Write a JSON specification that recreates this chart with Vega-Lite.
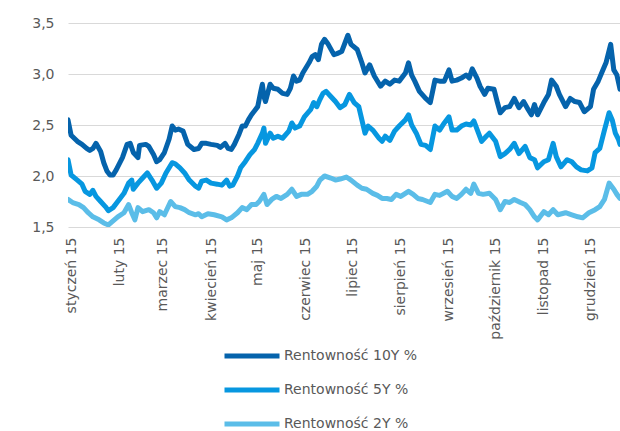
{
  "$schema": "https://vega.github.io/schema/vega-lite/v6.json",
  "width": 552,
  "height": 204,
  "autosize": {"type": "none"},
  "padding": {"left": 68, "top": 23, "right": 0, "bottom": 204},
  "background": "white",
  "config": {"view": {"stroke": null}, "font": "DejaVu Sans"},
  "data": {"values": [
    {"d":"2014-12-30","s":"10Y","v":2.55},{"d":"2015-01-01","s":"10Y","v":2.40},{"d":"2015-01-05","s":"10Y","v":2.34},{"d":"2015-01-08","s":"10Y","v":2.31},{"d":"2015-01-11","s":"10Y","v":2.27},{"d":"2015-01-13","s":"10Y","v":2.25},{"d":"2015-01-15","s":"10Y","v":2.27},{"d":"2015-01-17","s":"10Y","v":2.32},{"d":"2015-01-20","s":"10Y","v":2.24},{"d":"2015-01-22","s":"10Y","v":2.13},{"d":"2015-01-24","s":"10Y","v":2.05},{"d":"2015-01-26","s":"10Y","v":2.01},{"d":"2015-01-28","s":"10Y","v":2.01},{"d":"2015-01-30","s":"10Y","v":2.06},{"d":"2015-02-03","s":"10Y","v":2.18},{"d":"2015-02-06","s":"10Y","v":2.31},{"d":"2015-02-08","s":"10Y","v":2.32},{"d":"2015-02-10","s":"10Y","v":2.23},{"d":"2015-02-13","s":"10Y","v":2.18},{"d":"2015-02-14","s":"10Y","v":2.30},{"d":"2015-02-18","s":"10Y","v":2.31},{"d":"2015-02-20","s":"10Y","v":2.29},{"d":"2015-02-23","s":"10Y","v":2.21},{"d":"2015-02-25","s":"10Y","v":2.14},{"d":"2015-02-27","s":"10Y","v":2.16},{"d":"2015-03-02","s":"10Y","v":2.23},{"d":"2015-03-05","s":"10Y","v":2.36},{"d":"2015-03-07","s":"10Y","v":2.49},{"d":"2015-03-09","s":"10Y","v":2.45},{"d":"2015-03-11","s":"10Y","v":2.46},{"d":"2015-03-14","s":"10Y","v":2.44},{"d":"2015-03-17","s":"10Y","v":2.31},{"d":"2015-03-21","s":"10Y","v":2.26},{"d":"2015-03-24","s":"10Y","v":2.27},{"d":"2015-03-26","s":"10Y","v":2.32},{"d":"2015-03-29","s":"10Y","v":2.32},{"d":"2015-04-01","s":"10Y","v":2.31},{"d":"2015-04-05","s":"10Y","v":2.30},{"d":"2015-04-07","s":"10Y","v":2.28},{"d":"2015-04-10","s":"10Y","v":2.32},{"d":"2015-04-12","s":"10Y","v":2.27},{"d":"2015-04-14","s":"10Y","v":2.26},{"d":"2015-04-16","s":"10Y","v":2.31},{"d":"2015-04-19","s":"10Y","v":2.41},{"d":"2015-04-21","s":"10Y","v":2.49},{"d":"2015-04-23","s":"10Y","v":2.49},{"d":"2015-04-25","s":"10Y","v":2.55},{"d":"2015-04-27","s":"10Y","v":2.60},{"d":"2015-04-29","s":"10Y","v":2.64},{"d":"2015-05-01","s":"10Y","v":2.68},{"d":"2015-05-03","s":"10Y","v":2.83},{"d":"2015-05-04","s":"10Y","v":2.90},{"d":"2015-05-05","s":"10Y","v":2.78},{"d":"2015-05-06","s":"10Y","v":2.73},{"d":"2015-05-09","s":"10Y","v":2.90},{"d":"2015-05-11","s":"10Y","v":2.86},{"d":"2015-05-14","s":"10Y","v":2.85},{"d":"2015-05-17","s":"10Y","v":2.81},{"d":"2015-05-20","s":"10Y","v":2.80},{"d":"2015-05-22","s":"10Y","v":2.86},{"d":"2015-05-24","s":"10Y","v":2.98},{"d":"2015-05-26","s":"10Y","v":2.93},{"d":"2015-05-28","s":"10Y","v":2.94},{"d":"2015-05-30","s":"10Y","v":3.01},{"d":"2015-06-03","s":"10Y","v":3.11},{"d":"2015-06-05","s":"10Y","v":3.17},{"d":"2015-06-07","s":"10Y","v":3.19},{"d":"2015-06-09","s":"10Y","v":3.14},{"d":"2015-06-11","s":"10Y","v":3.29},{"d":"2015-06-13","s":"10Y","v":3.34},{"d":"2015-06-15","s":"10Y","v":3.30},{"d":"2015-06-19","s":"10Y","v":3.19},{"d":"2015-06-21","s":"10Y","v":3.20},{"d":"2015-06-24","s":"10Y","v":3.22},{"d":"2015-06-28","s":"10Y","v":3.38},{"d":"2015-06-30","s":"10Y","v":3.29},{"d":"2015-07-04","s":"10Y","v":3.24},{"d":"2015-07-07","s":"10Y","v":3.11},{"d":"2015-07-09","s":"10Y","v":3.01},{"d":"2015-07-12","s":"10Y","v":3.09},{"d":"2015-07-15","s":"10Y","v":2.98},{"d":"2015-07-19","s":"10Y","v":2.88},{"d":"2015-07-22","s":"10Y","v":2.93},{"d":"2015-07-25","s":"10Y","v":2.90},{"d":"2015-07-28","s":"10Y","v":2.94},{"d":"2015-07-31","s":"10Y","v":2.93},{"d":"2015-08-04","s":"10Y","v":3.01},{"d":"2015-08-06","s":"10Y","v":3.11},{"d":"2015-08-08","s":"10Y","v":2.99},{"d":"2015-08-10","s":"10Y","v":2.93},{"d":"2015-08-13","s":"10Y","v":2.83},{"d":"2015-08-17","s":"10Y","v":2.76},{"d":"2015-08-20","s":"10Y","v":2.72},{"d":"2015-08-23","s":"10Y","v":2.94},{"d":"2015-08-26","s":"10Y","v":2.93},{"d":"2015-08-29","s":"10Y","v":2.93},{"d":"2015-09-01","s":"10Y","v":3.04},{"d":"2015-09-03","s":"10Y","v":2.93},{"d":"2015-09-06","s":"10Y","v":2.94},{"d":"2015-09-09","s":"10Y","v":2.96},{"d":"2015-09-12","s":"10Y","v":2.99},{"d":"2015-09-14","s":"10Y","v":2.96},{"d":"2015-09-16","s":"10Y","v":3.05},{"d":"2015-09-19","s":"10Y","v":2.96},{"d":"2015-09-21","s":"10Y","v":2.88},{"d":"2015-09-24","s":"10Y","v":2.80},{"d":"2015-09-26","s":"10Y","v":2.86},{"d":"2015-09-30","s":"10Y","v":2.85},{"d":"2015-10-02","s":"10Y","v":2.73},{"d":"2015-10-04","s":"10Y","v":2.62},{"d":"2015-10-07","s":"10Y","v":2.67},{"d":"2015-10-10","s":"10Y","v":2.68},{"d":"2015-10-13","s":"10Y","v":2.76},{"d":"2015-10-16","s":"10Y","v":2.67},{"d":"2015-10-19","s":"10Y","v":2.73},{"d":"2015-10-22","s":"10Y","v":2.65},{"d":"2015-10-24","s":"10Y","v":2.60},{"d":"2015-10-26","s":"10Y","v":2.70},{"d":"2015-10-28","s":"10Y","v":2.60},{"d":"2015-11-01","s":"10Y","v":2.72},{"d":"2015-11-04","s":"10Y","v":2.80},{"d":"2015-11-06","s":"10Y","v":2.94},{"d":"2015-11-09","s":"10Y","v":2.88},{"d":"2015-11-11","s":"10Y","v":2.80},{"d":"2015-11-15","s":"10Y","v":2.68},{"d":"2015-11-18","s":"10Y","v":2.76},{"d":"2015-11-21","s":"10Y","v":2.73},{"d":"2015-11-24","s":"10Y","v":2.72},{"d":"2015-11-27","s":"10Y","v":2.63},{"d":"2015-12-01","s":"10Y","v":2.68},{"d":"2015-12-03","s":"10Y","v":2.85},{"d":"2015-12-06","s":"10Y","v":2.93},{"d":"2015-12-09","s":"10Y","v":3.04},{"d":"2015-12-11","s":"10Y","v":3.11},{"d":"2015-12-14","s":"10Y","v":3.29},{"d":"2015-12-16","s":"10Y","v":3.04},{"d":"2015-12-18","s":"10Y","v":2.99},{"d":"2015-12-20","s":"10Y","v":2.85},
    {"d":"2014-12-30","s":"5Y","v":2.16},{"d":"2015-01-01","s":"5Y","v":2.01},{"d":"2015-01-05","s":"5Y","v":1.96},{"d":"2015-01-08","s":"5Y","v":1.92},{"d":"2015-01-10","s":"5Y","v":1.85},{"d":"2015-01-13","s":"5Y","v":1.82},{"d":"2015-01-15","s":"5Y","v":1.86},{"d":"2015-01-17","s":"5Y","v":1.80},{"d":"2015-01-20","s":"5Y","v":1.75},{"d":"2015-01-23","s":"5Y","v":1.70},{"d":"2015-01-25","s":"5Y","v":1.66},{"d":"2015-01-28","s":"5Y","v":1.69},{"d":"2015-01-31","s":"5Y","v":1.75},{"d":"2015-02-04","s":"5Y","v":1.83},{"d":"2015-02-07","s":"5Y","v":1.93},{"d":"2015-02-09","s":"5Y","v":1.96},{"d":"2015-02-10","s":"5Y","v":1.87},{"d":"2015-02-13","s":"5Y","v":1.93},{"d":"2015-02-16","s":"5Y","v":1.98},{"d":"2015-02-19","s":"5Y","v":2.03},{"d":"2015-02-22","s":"5Y","v":1.96},{"d":"2015-02-25","s":"5Y","v":1.88},{"d":"2015-02-28","s":"5Y","v":1.93},{"d":"2015-03-03","s":"5Y","v":2.03},{"d":"2015-03-07","s":"5Y","v":2.13},{"d":"2015-03-09","s":"5Y","v":2.12},{"d":"2015-03-12","s":"5Y","v":2.08},{"d":"2015-03-15","s":"5Y","v":2.03},{"d":"2015-03-18","s":"5Y","v":1.96},{"d":"2015-03-22","s":"5Y","v":1.90},{"d":"2015-03-24","s":"5Y","v":1.88},{"d":"2015-03-26","s":"5Y","v":1.95},{"d":"2015-03-29","s":"5Y","v":1.96},{"d":"2015-04-01","s":"5Y","v":1.93},{"d":"2015-04-05","s":"5Y","v":1.92},{"d":"2015-04-08","s":"5Y","v":1.91},{"d":"2015-04-11","s":"5Y","v":1.96},{"d":"2015-04-13","s":"5Y","v":1.90},{"d":"2015-04-15","s":"5Y","v":1.91},{"d":"2015-04-18","s":"5Y","v":2.00},{"d":"2015-04-20","s":"5Y","v":2.08},{"d":"2015-04-23","s":"5Y","v":2.14},{"d":"2015-04-26","s":"5Y","v":2.21},{"d":"2015-04-29","s":"5Y","v":2.26},{"d":"2015-05-01","s":"5Y","v":2.32},{"d":"2015-05-04","s":"5Y","v":2.42},{"d":"2015-05-05","s":"5Y","v":2.47},{"d":"2015-05-06","s":"5Y","v":2.32},{"d":"2015-05-09","s":"5Y","v":2.42},{"d":"2015-05-11","s":"5Y","v":2.37},{"d":"2015-05-14","s":"5Y","v":2.39},{"d":"2015-05-17","s":"5Y","v":2.37},{"d":"2015-05-21","s":"5Y","v":2.44},{"d":"2015-05-23","s":"5Y","v":2.52},{"d":"2015-05-25","s":"5Y","v":2.47},{"d":"2015-05-28","s":"5Y","v":2.49},{"d":"2015-05-31","s":"5Y","v":2.58},{"d":"2015-06-04","s":"5Y","v":2.65},{"d":"2015-06-06","s":"5Y","v":2.72},{"d":"2015-06-08","s":"5Y","v":2.68},{"d":"2015-06-10","s":"5Y","v":2.75},{"d":"2015-06-12","s":"5Y","v":2.81},{"d":"2015-06-14","s":"5Y","v":2.83},{"d":"2015-06-17","s":"5Y","v":2.78},{"d":"2015-06-20","s":"5Y","v":2.73},{"d":"2015-06-23","s":"5Y","v":2.67},{"d":"2015-06-26","s":"5Y","v":2.70},{"d":"2015-06-29","s":"5Y","v":2.80},{"d":"2015-07-02","s":"5Y","v":2.72},{"d":"2015-07-05","s":"5Y","v":2.68},{"d":"2015-07-07","s":"5Y","v":2.55},{"d":"2015-07-09","s":"5Y","v":2.42},{"d":"2015-07-11","s":"5Y","v":2.49},{"d":"2015-07-14","s":"5Y","v":2.45},{"d":"2015-07-18","s":"5Y","v":2.37},{"d":"2015-07-20","s":"5Y","v":2.34},{"d":"2015-07-22","s":"5Y","v":2.39},{"d":"2015-07-25","s":"5Y","v":2.35},{"d":"2015-07-28","s":"5Y","v":2.44},{"d":"2015-07-31","s":"5Y","v":2.49},{"d":"2015-08-04","s":"5Y","v":2.55},{"d":"2015-08-06","s":"5Y","v":2.60},{"d":"2015-08-08","s":"5Y","v":2.50},{"d":"2015-08-11","s":"5Y","v":2.42},{"d":"2015-08-14","s":"5Y","v":2.31},{"d":"2015-08-17","s":"5Y","v":2.30},{"d":"2015-08-20","s":"5Y","v":2.26},{"d":"2015-08-23","s":"5Y","v":2.49},{"d":"2015-08-26","s":"5Y","v":2.45},{"d":"2015-08-29","s":"5Y","v":2.52},{"d":"2015-09-01","s":"5Y","v":2.58},{"d":"2015-09-03","s":"5Y","v":2.45},{"d":"2015-09-06","s":"5Y","v":2.45},{"d":"2015-09-09","s":"5Y","v":2.49},{"d":"2015-09-12","s":"5Y","v":2.51},{"d":"2015-09-15","s":"5Y","v":2.50},{"d":"2015-09-17","s":"5Y","v":2.54},{"d":"2015-09-20","s":"5Y","v":2.42},{"d":"2015-09-22","s":"5Y","v":2.34},{"d":"2015-09-25","s":"5Y","v":2.39},{"d":"2015-09-27","s":"5Y","v":2.42},{"d":"2015-10-01","s":"5Y","v":2.34},{"d":"2015-10-04","s":"5Y","v":2.19},{"d":"2015-10-07","s":"5Y","v":2.22},{"d":"2015-10-10","s":"5Y","v":2.26},{"d":"2015-10-13","s":"5Y","v":2.32},{"d":"2015-10-16","s":"5Y","v":2.22},{"d":"2015-10-20","s":"5Y","v":2.29},{"d":"2015-10-23","s":"5Y","v":2.18},{"d":"2015-10-26","s":"5Y","v":2.16},{"d":"2015-10-28","s":"5Y","v":2.08},{"d":"2015-11-01","s":"5Y","v":2.14},{"d":"2015-11-04","s":"5Y","v":2.16},{"d":"2015-11-07","s":"5Y","v":2.32},{"d":"2015-11-09","s":"5Y","v":2.19},{"d":"2015-11-12","s":"5Y","v":2.09},{"d":"2015-11-16","s":"5Y","v":2.16},{"d":"2015-11-19","s":"5Y","v":2.14},{"d":"2015-11-22","s":"5Y","v":2.09},{"d":"2015-11-25","s":"5Y","v":2.06},{"d":"2015-11-29","s":"5Y","v":2.05},{"d":"2015-12-02","s":"5Y","v":2.08},{"d":"2015-12-04","s":"5Y","v":2.23},{"d":"2015-12-07","s":"5Y","v":2.27},{"d":"2015-12-10","s":"5Y","v":2.45},{"d":"2015-12-13","s":"5Y","v":2.62},{"d":"2015-12-15","s":"5Y","v":2.55},{"d":"2015-12-17","s":"5Y","v":2.42},{"d":"2015-12-19","s":"5Y","v":2.36},{"d":"2015-12-20","s":"5Y","v":2.31},
    {"d":"2014-12-30","s":"2Y","v":1.77},{"d":"2015-01-02","s":"2Y","v":1.74},{"d":"2015-01-06","s":"2Y","v":1.72},{"d":"2015-01-09","s":"2Y","v":1.69},{"d":"2015-01-12","s":"2Y","v":1.64},{"d":"2015-01-15","s":"2Y","v":1.60},{"d":"2015-01-19","s":"2Y","v":1.57},{"d":"2015-01-22","s":"2Y","v":1.54},{"d":"2015-01-25","s":"2Y","v":1.52},{"d":"2015-01-28","s":"2Y","v":1.56},{"d":"2015-01-31","s":"2Y","v":1.60},{"d":"2015-02-04","s":"2Y","v":1.64},{"d":"2015-02-07","s":"2Y","v":1.72},{"d":"2015-02-09","s":"2Y","v":1.64},{"d":"2015-02-11","s":"2Y","v":1.57},{"d":"2015-02-13","s":"2Y","v":1.69},{"d":"2015-02-16","s":"2Y","v":1.65},{"d":"2015-02-20","s":"2Y","v":1.67},{"d":"2015-02-23","s":"2Y","v":1.64},{"d":"2015-02-25","s":"2Y","v":1.59},{"d":"2015-02-27","s":"2Y","v":1.65},{"d":"2015-03-02","s":"2Y","v":1.62},{"d":"2015-03-06","s":"2Y","v":1.75},{"d":"2015-03-09","s":"2Y","v":1.70},{"d":"2015-03-12","s":"2Y","v":1.69},{"d":"2015-03-15","s":"2Y","v":1.67},{"d":"2015-03-18","s":"2Y","v":1.64},{"d":"2015-03-22","s":"2Y","v":1.62},{"d":"2015-03-24","s":"2Y","v":1.63},{"d":"2015-03-26","s":"2Y","v":1.60},{"d":"2015-03-30","s":"2Y","v":1.63},{"d":"2015-04-03","s":"2Y","v":1.62},{"d":"2015-04-08","s":"2Y","v":1.60},{"d":"2015-04-11","s":"2Y","v":1.57},{"d":"2015-04-14","s":"2Y","v":1.59},{"d":"2015-04-18","s":"2Y","v":1.64},{"d":"2015-04-21","s":"2Y","v":1.69},{"d":"2015-04-24","s":"2Y","v":1.67},{"d":"2015-04-27","s":"2Y","v":1.72},{"d":"2015-04-30","s":"2Y","v":1.72},{"d":"2015-05-02","s":"2Y","v":1.75},{"d":"2015-05-05","s":"2Y","v":1.82},{"d":"2015-05-07","s":"2Y","v":1.72},{"d":"2015-05-10","s":"2Y","v":1.77},{"d":"2015-05-13","s":"2Y","v":1.80},{"d":"2015-05-16","s":"2Y","v":1.78},{"d":"2015-05-20","s":"2Y","v":1.82},{"d":"2015-05-23","s":"2Y","v":1.87},{"d":"2015-05-26","s":"2Y","v":1.80},{"d":"2015-05-29","s":"2Y","v":1.82},{"d":"2015-06-02","s":"2Y","v":1.82},{"d":"2015-06-05","s":"2Y","v":1.85},{"d":"2015-06-08","s":"2Y","v":1.90},{"d":"2015-06-10","s":"2Y","v":1.96},{"d":"2015-06-13","s":"2Y","v":2.00},{"d":"2015-06-17","s":"2Y","v":1.98},{"d":"2015-06-20","s":"2Y","v":1.96},{"d":"2015-06-23","s":"2Y","v":1.97},{"d":"2015-06-27","s":"2Y","v":1.99},{"d":"2015-06-30","s":"2Y","v":1.96},{"d":"2015-07-04","s":"2Y","v":1.91},{"d":"2015-07-07","s":"2Y","v":1.88},{"d":"2015-07-10","s":"2Y","v":1.87},{"d":"2015-07-14","s":"2Y","v":1.83},{"d":"2015-07-17","s":"2Y","v":1.81},{"d":"2015-07-20","s":"2Y","v":1.78},{"d":"2015-07-23","s":"2Y","v":1.78},{"d":"2015-07-26","s":"2Y","v":1.77},{"d":"2015-07-29","s":"2Y","v":1.82},{"d":"2015-08-01","s":"2Y","v":1.80},{"d":"2015-08-06","s":"2Y","v":1.85},{"d":"2015-08-09","s":"2Y","v":1.82},{"d":"2015-08-12","s":"2Y","v":1.78},{"d":"2015-08-15","s":"2Y","v":1.77},{"d":"2015-08-20","s":"2Y","v":1.74},{"d":"2015-08-23","s":"2Y","v":1.82},{"d":"2015-08-26","s":"2Y","v":1.81},{"d":"2015-08-31","s":"2Y","v":1.85},{"d":"2015-09-03","s":"2Y","v":1.80},{"d":"2015-09-06","s":"2Y","v":1.78},{"d":"2015-09-09","s":"2Y","v":1.82},{"d":"2015-09-12","s":"2Y","v":1.87},{"d":"2015-09-15","s":"2Y","v":1.83},{"d":"2015-09-17","s":"2Y","v":1.92},{"d":"2015-09-20","s":"2Y","v":1.83},{"d":"2015-09-23","s":"2Y","v":1.82},{"d":"2015-09-27","s":"2Y","v":1.83},{"d":"2015-10-01","s":"2Y","v":1.77},{"d":"2015-10-04","s":"2Y","v":1.67},{"d":"2015-10-07","s":"2Y","v":1.75},{"d":"2015-10-10","s":"2Y","v":1.74},{"d":"2015-10-13","s":"2Y","v":1.77},{"d":"2015-10-17","s":"2Y","v":1.74},{"d":"2015-10-20","s":"2Y","v":1.72},{"d":"2015-10-23","s":"2Y","v":1.67},{"d":"2015-10-26","s":"2Y","v":1.60},{"d":"2015-10-28","s":"2Y","v":1.57},{"d":"2015-11-01","s":"2Y","v":1.65},{"d":"2015-11-04","s":"2Y","v":1.62},{"d":"2015-11-07","s":"2Y","v":1.67},{"d":"2015-11-10","s":"2Y","v":1.62},{"d":"2015-11-15","s":"2Y","v":1.64},{"d":"2015-11-19","s":"2Y","v":1.62},{"d":"2015-11-23","s":"2Y","v":1.60},{"d":"2015-11-26","s":"2Y","v":1.59},{"d":"2015-11-30","s":"2Y","v":1.64},{"d":"2015-12-04","s":"2Y","v":1.67},{"d":"2015-12-07","s":"2Y","v":1.70},{"d":"2015-12-10","s":"2Y","v":1.77},{"d":"2015-12-13","s":"2Y","v":1.93},{"d":"2015-12-16","s":"2Y","v":1.87},{"d":"2015-12-18","s":"2Y","v":1.82},{"d":"2015-12-20","s":"2Y","v":1.78}
  ]},
  "mark": {"type": "line", "strokeWidth": 5, "strokeJoin": "round", "strokeCap": "round", "clip": true},
  "encoding": {
    "x": {
      "field": "d", "type": "temporal",
      "scale": {"type": "utc", "domain": [{"year": 2014, "month": 12, "date": 30, "utc": true}, {"year": 2015, "month": 12, "date": 20, "utc": true}]},
      "axis": {
        "title": null, "tickCount": {"interval": "month", "step": 1},
        "labelAngle": 270, "labelAlign": "right", "labelBaseline": "middle",
        "labelPadding": 10, "ticks": false, "domain": false, "grid": false,
        "labelFontSize": 14, "labelColor": "#595959", "labelOverlap": false, "labelFlush": false,
        "labelExpr": "['styczeń','luty','marzec','kwiecień','maj','czerwiec','lipiec','sierpień','wrzesień','październik','listopad','grudzień'][utcmonth(datum.value)] + ' 15'"
      }
    },
    "y": {
      "field": "v", "type": "quantitative",
      "scale": {"domain": [1.5, 3.5], "nice": false, "zero": false},
      "axis": {
        "title": null, "values": [1.5, 2, 2.5, 3, 3.5],
        "labelExpr": "replace(format(datum.value, '.1f'), '.', ',')",
        "ticks": false, "domain": false, "gridColor": "#d9d9d9", "gridWidth": 1,
        "labelPadding": 14, "labelFontSize": 14, "labelColor": "#595959"
      }
    },
    "color": {
      "field": "s", "type": "nominal",
      "scale": {"domain": ["10Y", "5Y", "2Y"], "range": ["#0563ac", "#0797e0", "#5bbde8"]},
      "legend": {
        "orient": "none", "legendX": 176, "legendY": 325, "direction": "vertical",
        "title": null, "padding": 0,
        "symbolType": "M-5,0H5", "symbolSize": 121, "symbolStrokeWidth": 5,
        "labelFontSize": 14, "labelColor": "#595959", "labelOffset": 24, "rowPadding": 14,
        "labelExpr": "'Rentowność ' + datum.label + ' %'"
      }
    }
  }
}
